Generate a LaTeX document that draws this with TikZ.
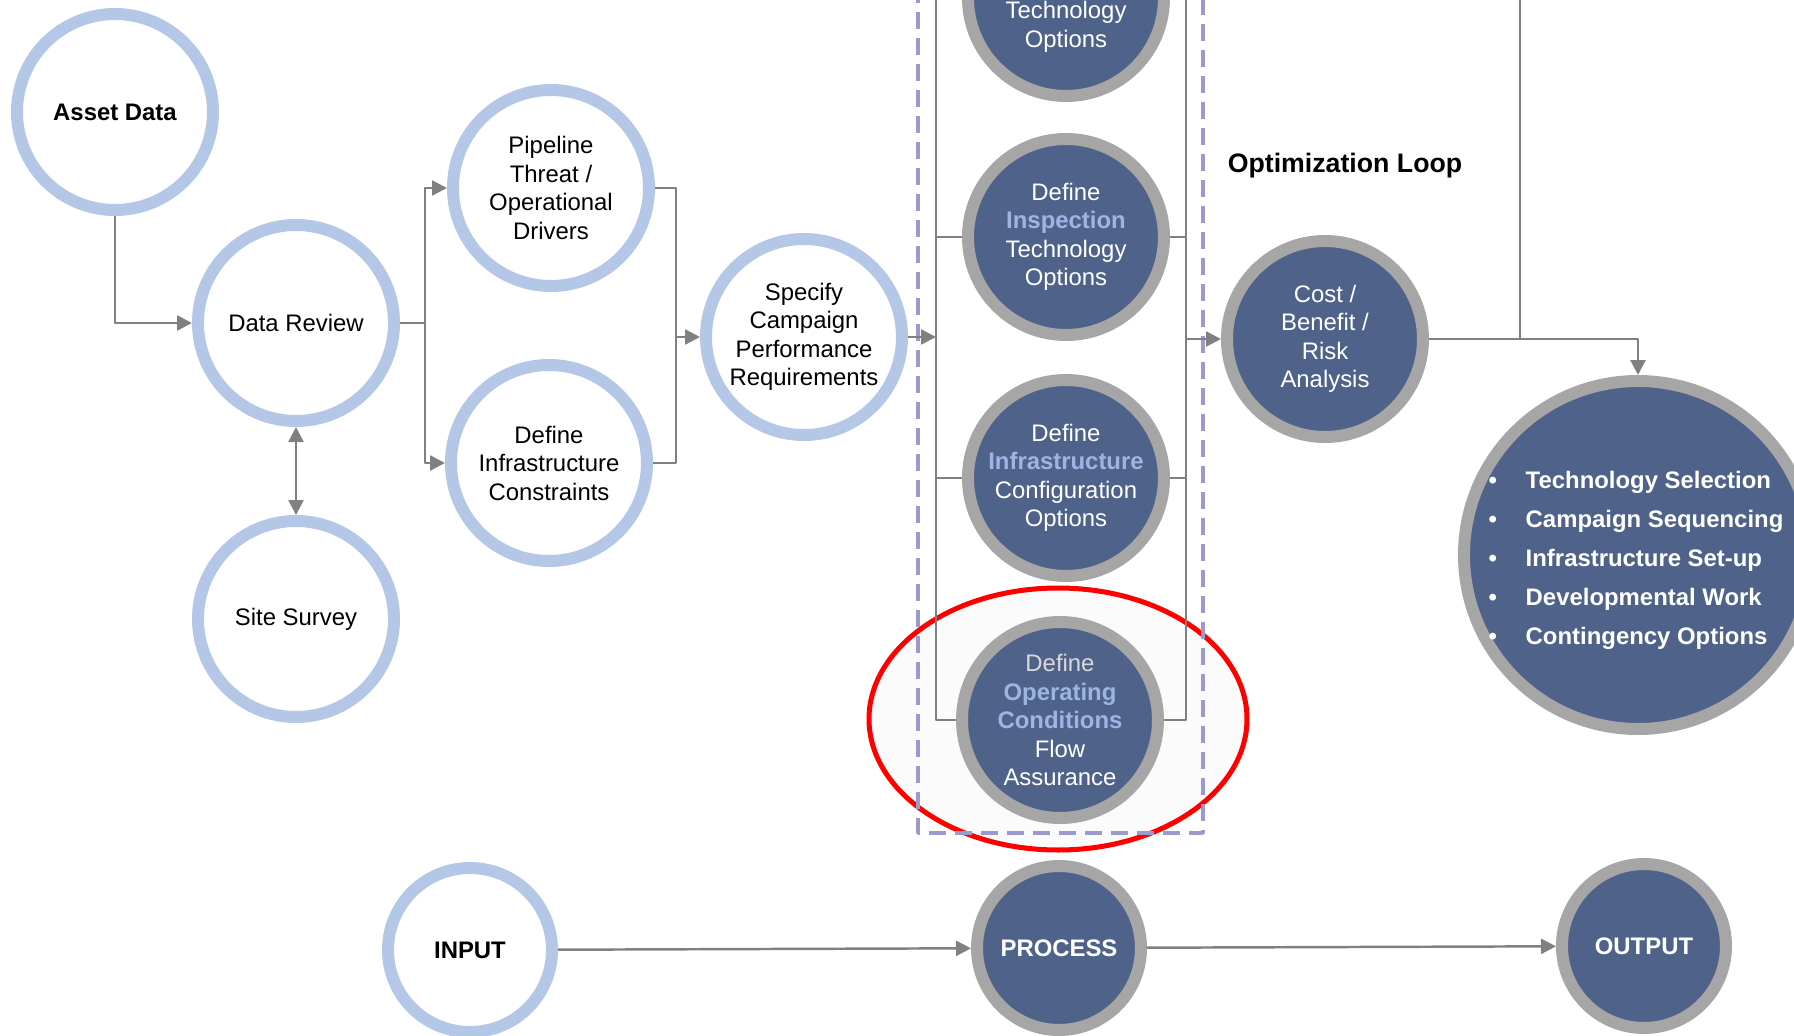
\documentclass[tikz,border=0pt]{standalone}
\usepackage{fontspec}
\setmainfont{Liberation Sans}
\usetikzlibrary{arrows.meta,calc}
\definecolor{ringblue}{HTML}{B4C7E7}
\definecolor{ringgray}{HTML}{A6A6A6}
\definecolor{procblue}{HTML}{4F6289}
\definecolor{hiblue}{HTML}{9DB5E3}
\definecolor{linegray}{HTML}{808080}
\definecolor{boxlilac}{HTML}{9A9ACF}
\definecolor{haze}{HTML}{FBFBFB}
\newcommand{\hword}[1]{{\bfseries\color{hiblue}#1}}
\tikzset{
	inring/.style={circle,draw=ringblue,line width=0.12cm,fill=white,minimum size=1.96cm,inner sep=0pt,align=center},
	procring/.style={circle,draw=ringgray,line width=0.12cm,fill=procblue,text=white,minimum size=1.96cm,inner sep=0pt,align=center},
	link/.style={draw=linegray,line width=0.7pt},
	bold/.style={font=\bfseries}
}
\begin{document}
\fontsize{6.8pt}{8.1pt}\selectfont
\begin{tikzpicture}[x=1cm,y=-1cm,>={Triangle[length=0.15cm,width=0.15cm]},line join=round]
	\useasboundingbox (0,0) rectangle (17.94,10.36);
	\clip (0,0) rectangle (17.94,10.36);
	% flow assurance option, ringed in red
	\draw[red,line width=0.05cm,fill=haze] (10.58,7.19) ellipse (1.89 and 1.31);
	% inputs
	\node[inring,bold] (asset) at (1.15,1.12) {Asset Data};
	\node[inring] (review) at (2.96,3.23) {Data Review};
	\node[inring] (survey) at (2.96,6.19) {Site Survey};
	\node[inring] (pipe) at (5.51,1.88) {Pipeline\\Threat /\\Operational\\Drivers};
	\node[inring] (infra) at (5.49,4.63) {Define\\Infrastructure\\Constraints};
	\node[inring] (spec) at (8.04,3.37) {Specify\\Campaign\\Performance\\Requirements};
	% option bracket
	\coordinate (brL) at (9.36,-0.4);
	\coordinate (brR) at (11.86,-0.4);
	\node[procring] (toptech) at (10.66,-0.02) {};
	\node[text=white,align=center] (toptxt) at (10.66,0.27) {Technology\\Options};
	\node[procring] (inspect) at (10.66,2.37) {Define\\\hword{Inspection}\\Technology\\Options};
	\node[procring] (infraopt) at (10.66,4.78) {Define\\\hword{Infrastructure}\\Configuration\\Options};
	\node[procring] (opcond) at (10.60,7.20) {\textcolor{gray!30}{Define}\\\hword{Operating}\\\hword{Conditions}\\Flow\\Assurance};
	\draw[link] (brL) |- (opcond.west);
	\draw[link] (brR) |- (opcond.east);
	\foreach \opt in {toptech,inspect,infraopt} {
		\draw[link] (\opt.west) -- (\opt.west -| brL);
		\draw[link] (\opt.east) -- (\opt.east -| brR);
	}
	\draw[boxlilac,line width=0.035cm,dash pattern=on 0.17cm off 0.09cm] (9.18,-0.4) -- (9.18,8.33) -- (12.03,8.33) -- (12.03,-0.4);
	% analysis and outputs
	\node[bold,font=\bfseries\fontsize{7.6pt}{9pt}\selectfont] (looptxt) at (13.45,1.66) {Optimization Loop};
	\node[procring] (cost) at (13.25,3.39) {Cost /\\Benefit /\\Risk\\Analysis};
	\node[procring,minimum size=3.48cm] (outc) at (16.38,5.55) {};
	\foreach \txt [count=\i] in {Technology Selection,Campaign Sequencing,Infrastructure Set-up,Developmental Work,Contingency Options}
		\node[anchor=base west,inner sep=0pt,text=white,bold] (pick\i) at (14.88,{4.886+0.39*(\i-1)}) {\textbullet\hspace{1.2em}\txt};
	\coordinate (loop) at (15.20,-0.4);
	% connectors
	\draw[link,->] (asset.south) |- (review.west);
	\draw[link] (review.east) -- ++(0.25,0) coordinate (rsplit);
	\draw[link,->] (rsplit) |- (pipe.west);
	\draw[link,->] (rsplit) |- (infra.west);
	\coordinate (pjoin) at ($(spec.west)+(-0.24,0)$);
	\draw[link] (pipe.east) -| (pjoin);
	\draw[link] (infra.east) -| (pjoin);
	\draw[link,->] (pjoin) -- (spec.west);
	\draw[link,<->] (review.south) -- (survey.north);
	\draw[link,->] (spec.east) -- (spec.east -| brL);
	\draw[link,->] (cost.west -| brR) -- (cost.west);
	\draw[link,->] (cost.east) -| (outc.north);
	\draw[link] (loop) -- (loop |- cost.east);
	% legend row
	\node[inring,bold,minimum size=1.64cm] (input) at (4.70,9.50) {INPUT};
	\node[procring,bold,minimum size=1.64cm] (process) at (10.59,9.48) {PROCESS};
	\node[procring,bold,minimum size=1.64cm] (output) at (16.44,9.46) {OUTPUT};
	\draw[link,->] (input) -- (process);
	\draw[link,->] (process) -- (output);
\end{tikzpicture}
\end{document}
